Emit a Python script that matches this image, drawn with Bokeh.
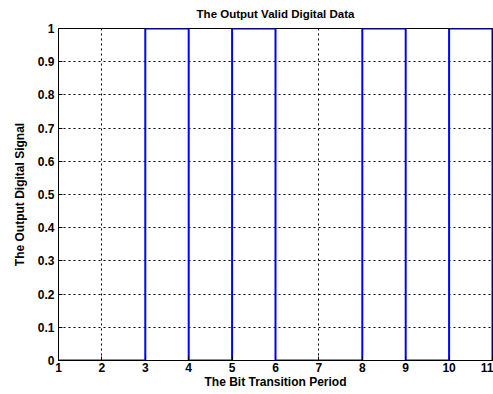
from bokeh.plotting import figure
from bokeh.models import Range1d, FixedTicker, Title
from bokeh.embed import file_html
from bokeh.resources import INLINE

# Data
bit_edges = [1, 2, 3, 4, 5, 6, 7, 8, 9, 10, 11]
bit_values = [0, 0, 1, 0, 1, 0, 0, 1, 0, 1, 0]
x_ticks = [1, 2, 3, 4, 5, 6, 7, 8, 9, 10, 11]
y_ticks = [0, 0.1, 0.2, 0.3, 0.4, 0.5, 0.6, 0.7, 0.8, 0.9, 1]

FONT = "Liberation Sans"

p = figure(width=493, height=394, output_backend="svg", toolbar_location=None,
           x_range=Range1d(1, 11), y_range=Range1d(0, 1),
           min_border_left=58, min_border_right=1, min_border_top=0, min_border_bottom=34)

p.title = Title(text="The Output Valid Digital Data", align="center",
                text_font=FONT, text_font_size="11.5px", text_font_style="bold",
                text_color="black", standoff=14)
p.title.vertical_align = "top"

p.step(bit_edges, bit_values, mode="after", line_color="#0000ff", line_width=2)

p.outline_line_color = "black"
p.outline_line_width = 1
p.background_fill_color = "white"
p.border_fill_color = "white"

for ax in (p.xaxis[0], p.yaxis[0]):
    ax.axis_line_color = "black"
    ax.major_tick_line_color = "black"
    ax.major_tick_in = 4
    ax.major_tick_out = 0
    ax.minor_tick_line_color = None
    ax.major_label_text_font = FONT
    ax.major_label_text_font_size = "12px"
    ax.major_label_text_font_style = "bold"
    ax.major_label_text_color = "black"
    ax.axis_label_text_font = FONT
    ax.axis_label_text_font_size = "12px"
    ax.axis_label_text_font_style = "bold"
    ax.axis_label_text_color = "black"
    ax.major_label_standoff = 4

p.xaxis.ticker = FixedTicker(ticks=x_ticks)
p.yaxis.ticker = FixedTicker(ticks=y_ticks)
p.yaxis.major_label_overrides = {0: "0", 1: "1"}
p.xaxis.axis_label = "The Bit Transition Period"
p.yaxis.axis_label = "The Output Digital Signal"
p.xaxis.major_label_standoff = 2
p.xaxis.axis_label_standoff = 0
p.yaxis.axis_label_standoff = 8

p.grid.grid_line_color = "black"
p.grid.grid_line_dash = "2 3"
p.grid.grid_line_width = 1

open("out.html", "w").write(file_html(p, INLINE))
